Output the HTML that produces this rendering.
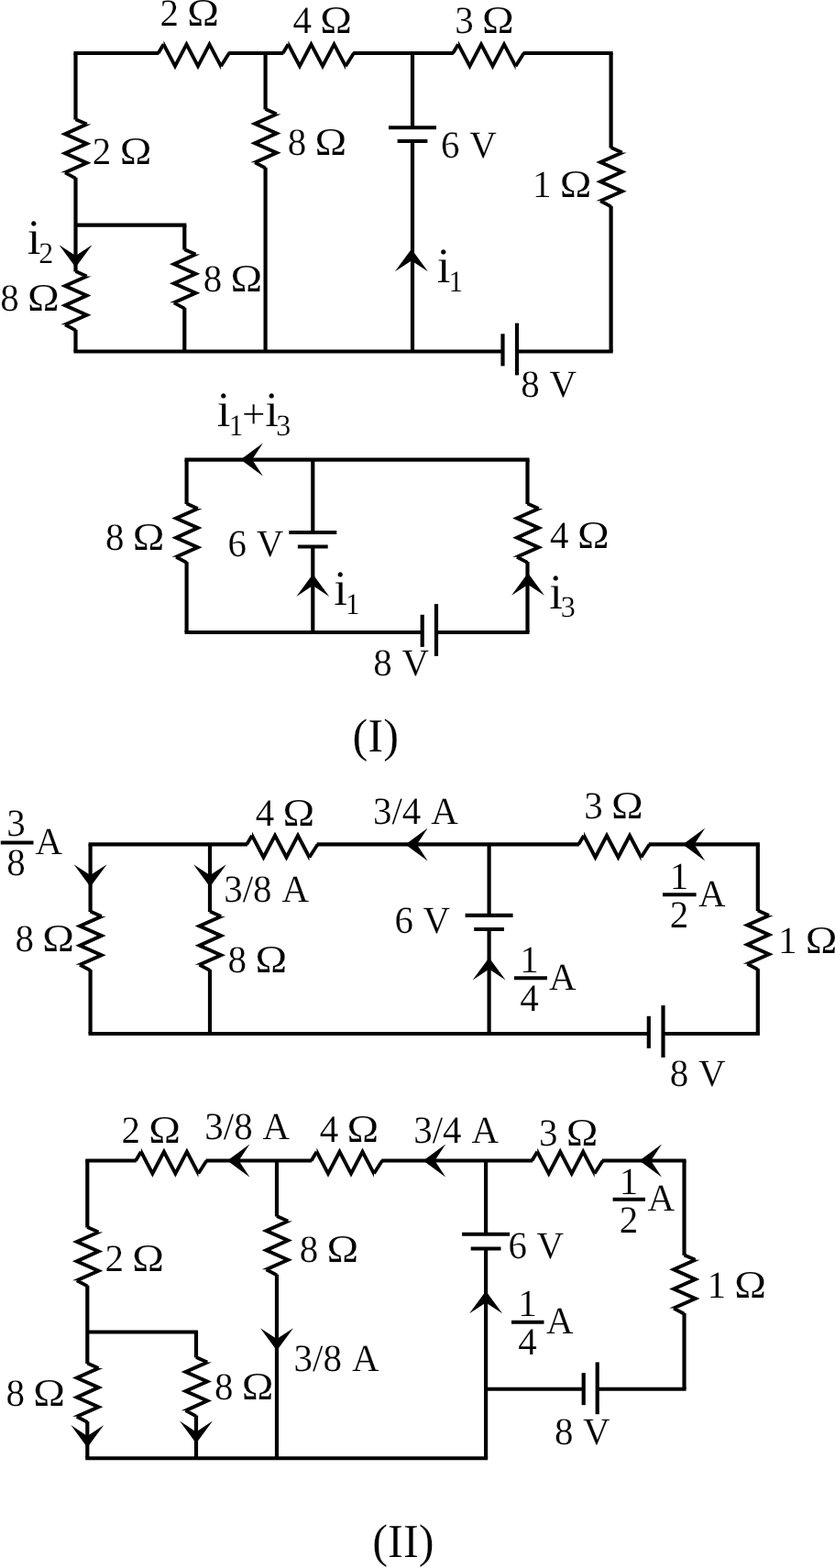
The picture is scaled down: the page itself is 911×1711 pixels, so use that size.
<!DOCTYPE html>
<html><head><meta charset="utf-8"><title>Circuit</title>
<style>
html,body{margin:0;padding:0;background:#fff;width:911px;height:1711px;overflow:hidden}
svg{display:block}
text{text-rendering:geometricPrecision;font-family:"Liberation Serif",serif;fill:#000;stroke:#fff;stroke-width:0.18px}
line,polyline{stroke:#000}
</style></head>
<body>
<svg width="911" height="1711" viewBox="0 0 911 1711">
<rect x="0" y="0" width="911" height="1711" fill="#fff"/>
<g opacity="0.999">
<polygon points="178.5,44.15 191.0,67.95 203.5,44.15 216.0,67.95 228.5,44.15 241.0,67.95 241.0,76.35 228.5,52.55 216.0,76.35 203.5,52.55 191.0,76.35 178.5,52.55" fill="#000" stroke="none"/>
<line x1="172.7" y1="58.05" x2="178.5" y2="48.349999999999994" stroke-width="3.8"/>
<line x1="241.0" y1="72.14999999999999" x2="250.0" y2="58.05" stroke-width="3.8"/>
<polygon points="314.5,44.15 327.0,67.95 339.5,44.15 352.0,67.95 364.5,44.15 377.0,67.95 377.0,76.35 364.5,52.55 352.0,76.35 339.5,52.55 327.0,76.35 314.5,52.55" fill="#000" stroke="none"/>
<line x1="308.7" y1="58.05" x2="314.5" y2="48.349999999999994" stroke-width="3.8"/>
<line x1="377.0" y1="72.14999999999999" x2="386.0" y2="58.05" stroke-width="3.8"/>
<polygon points="500.0,44.15 512.5,67.95 525.0,44.15 537.5,67.95 550.0,44.15 562.5,67.95 562.5,76.35 550.0,52.55 537.5,76.35 525.0,52.55 512.5,76.35 500.0,52.55" fill="#000" stroke="none"/>
<line x1="494.2" y1="58.05" x2="500.0" y2="48.349999999999994" stroke-width="3.8"/>
<line x1="562.5" y1="72.14999999999999" x2="571.5" y2="58.05" stroke-width="3.8"/>
<line x1="80.45" y1="58.05" x2="173.3" y2="58.05" stroke-width="4.1"/>
<line x1="249.2" y1="58.05" x2="309.3" y2="58.05" stroke-width="4.1"/>
<line x1="385.2" y1="58.05" x2="494.8" y2="58.05" stroke-width="4.1"/>
<line x1="570.7" y1="58.05" x2="668.65" y2="58.05" stroke-width="4.1"/>
<line x1="80.45" y1="383.5" x2="548.5" y2="383.5" stroke-width="4.1"/>
<line x1="564" y1="383.5" x2="668.65" y2="383.5" stroke-width="4.1"/>
<line x1="548.5" y1="364.3" x2="548.5" y2="399.4" stroke-width="4.2"/>
<line x1="564" y1="352.6" x2="564" y2="409.4" stroke-width="4.2"/>
<polygon points="89.85,135.6 66.15,146.15 89.85,156.7 66.15,167.25 89.85,177.8 66.15,188.35 75.85,188.35 99.55,177.8 75.85,167.25 99.55,156.7 75.85,146.15 99.55,135.6" fill="#000" stroke="none"/>
<line x1="82.5" y1="130.2" x2="94.7" y2="135.6" stroke-width="3.8"/>
<line x1="71.0" y1="188.35" x2="82.5" y2="194.55" stroke-width="3.8"/>
<polygon points="89.85,301.5 66.15,312.05 89.85,322.6 66.15,333.15 89.85,343.7 66.15,354.25 75.85,354.25 99.55,343.7 75.85,333.15 99.55,322.6 75.85,312.05 99.55,301.5" fill="#000" stroke="none"/>
<line x1="82.5" y1="296.1" x2="94.7" y2="301.5" stroke-width="3.8"/>
<line x1="71.0" y1="354.25" x2="82.5" y2="360.45" stroke-width="3.8"/>
<line x1="82.5" y1="58.05" x2="82.5" y2="130.6" stroke-width="4.2"/>
<line x1="82.5" y1="193.75" x2="82.5" y2="296.5" stroke-width="4.2"/>
<line x1="82.5" y1="359.65" x2="82.5" y2="383.5" stroke-width="4.2"/>
<polygon points="296.95,124.5 273.25,135.05 296.95,145.6 273.25,156.15 296.95,166.7 273.25,177.25 282.95,177.25 306.65,166.7 282.95,156.15 306.65,145.6 282.95,135.05 306.65,124.5" fill="#000" stroke="none"/>
<line x1="289.6" y1="119.1" x2="301.8" y2="124.5" stroke-width="3.8"/>
<line x1="278.1" y1="177.25" x2="289.6" y2="183.45" stroke-width="3.8"/>
<line x1="289.6" y1="58.05" x2="289.6" y2="119.5" stroke-width="4.2"/>
<line x1="289.6" y1="182.64999999999998" x2="289.6" y2="383.5" stroke-width="4.2"/>
<line x1="450" y1="58.05" x2="450" y2="138.5" stroke-width="4.2"/>
<line x1="450" y1="154" x2="450" y2="383.5" stroke-width="4.2"/>
<line x1="424" y1="139.2" x2="476" y2="139.2" stroke-width="4.1"/>
<line x1="433.6" y1="154" x2="466.4" y2="154" stroke-width="4.1"/>
<polygon points="673.95,166.5 650.25,177.05 673.95,187.6 650.25,198.15 673.95,208.7 650.25,219.25 659.95,219.25 683.65,208.7 659.95,198.15 683.65,187.6 659.95,177.05 683.65,166.5" fill="#000" stroke="none"/>
<line x1="666.6" y1="161.1" x2="678.8000000000001" y2="166.5" stroke-width="3.8"/>
<line x1="655.1" y1="219.25" x2="666.6" y2="225.45" stroke-width="3.8"/>
<line x1="666.6" y1="58.05" x2="666.6" y2="161.5" stroke-width="4.2"/>
<line x1="666.6" y1="224.64999999999998" x2="666.6" y2="383.5" stroke-width="4.2"/>
<line x1="82.5" y1="245.6" x2="203.35000000000002" y2="245.6" stroke-width="4.1"/>
<polygon points="208.65,277.6 184.95,288.15 208.65,298.7 184.95,309.25 208.65,319.8 184.95,330.35 194.65,330.35 218.35,319.8 194.65,309.25 218.35,298.7 194.65,288.15 218.35,277.6" fill="#000" stroke="none"/>
<line x1="201.3" y1="272.20000000000005" x2="213.5" y2="277.6" stroke-width="3.8"/>
<line x1="189.8" y1="330.35" x2="201.3" y2="336.55" stroke-width="3.8"/>
<line x1="201.3" y1="245.6" x2="201.3" y2="272.6" stroke-width="4.2"/>
<line x1="201.3" y1="335.75" x2="201.3" y2="383.5" stroke-width="4.2"/>
<polygon points="82.5,291.7 64.5,267.3 82.5,279.1 100.5,267.3" fill="#000" stroke="none"/>
<polygon points="448.9,271.8 430.9,296.2 448.9,284.4 466.9,296.2" fill="#000" stroke="none"/>
<text transform="translate(174.57,28.3) scale(1,1.02)" font-size="41">2</text>
<text transform="translate(204.37,28.3) scale(1.14,1.03)" font-size="41">Ω</text>
<text transform="translate(319.51,36) scale(1,1.02)" font-size="41">4</text>
<text transform="translate(349.31,36) scale(1.14,1.03)" font-size="41">Ω</text>
<text transform="translate(496.24,35.5) scale(1,1.02)" font-size="41">3</text>
<text transform="translate(526.04,35.5) scale(1.14,1.03)" font-size="41">Ω</text>
<text transform="translate(100.87,179.2) scale(1,1.02)" font-size="41">2</text>
<text transform="translate(130.67,179.2) scale(1.14,1.03)" font-size="41">Ω</text>
<text transform="translate(313.8,169.2) scale(1,1.02)" font-size="41">8</text>
<text transform="translate(343.6,169.2) scale(1.14,1.03)" font-size="41">Ω</text>
<text transform="translate(481.11,171.5) scale(1,1.02)" font-size="41" word-spacing="1.2">6 V</text>
<text transform="translate(580.95,214.7) scale(1,1.02)" font-size="41">1</text>
<text transform="translate(610.75,214.7) scale(1.14,1.03)" font-size="41">Ω</text>
<text transform="translate(29.65,277.4) scale(1,1.02)" font-size="53" stroke="#000" stroke-width="0.8">i</text>
<text transform="translate(50.2,287.0) scale(1,1.02)" font-size="32" text-anchor="middle" stroke="#000" stroke-width="0.3">2</text>
<text transform="translate(0.2,339) scale(1,1.02)" font-size="41">8</text>
<text transform="translate(30.0,339) scale(1.14,1.03)" font-size="41">Ω</text>
<text transform="translate(221.7,317.5) scale(1,1.02)" font-size="41">8</text>
<text transform="translate(251.5,317.5) scale(1.14,1.03)" font-size="41">Ω</text>
<text transform="translate(476.65,308) scale(1,1.02)" font-size="53" stroke="#000" stroke-width="0.8">i</text>
<text transform="translate(497.2,317.6) scale(1,1.02)" font-size="32" text-anchor="middle" stroke="#000" stroke-width="0.3">1</text>
<text transform="translate(568.2,432.8) scale(1,1.02)" font-size="41" word-spacing="1.2">8 V</text>
<line x1="201.54999999999998" y1="501.6" x2="577.55" y2="501.6" stroke-width="4.1"/>
<line x1="201.54999999999998" y1="690" x2="460.7" y2="690" stroke-width="4.1"/>
<line x1="476" y1="690" x2="577.55" y2="690" stroke-width="4.1"/>
<line x1="460.7" y1="670.8" x2="460.7" y2="705.9" stroke-width="4.2"/>
<line x1="476" y1="659.1" x2="476" y2="715.9" stroke-width="4.2"/>
<polygon points="210.95,555.0 187.25,565.55 210.95,576.1 187.25,586.65 210.95,597.2 187.25,607.75 196.95,607.75 220.65,597.2 196.95,586.65 220.65,576.1 196.95,565.55 220.65,555.0" fill="#000" stroke="none"/>
<line x1="203.6" y1="549.6" x2="215.79999999999998" y2="555.0" stroke-width="3.8"/>
<line x1="192.1" y1="607.75" x2="203.6" y2="613.95" stroke-width="3.8"/>
<line x1="203.6" y1="501.6" x2="203.6" y2="550.0" stroke-width="4.2"/>
<line x1="203.6" y1="613.1500000000001" x2="203.6" y2="690" stroke-width="4.2"/>
<line x1="341.3" y1="501.6" x2="341.3" y2="581" stroke-width="4.2"/>
<line x1="341.3" y1="596.5" x2="341.3" y2="690" stroke-width="4.2"/>
<line x1="315.3" y1="581" x2="367.3" y2="581" stroke-width="4.1"/>
<line x1="324.90000000000003" y1="596.5" x2="357.7" y2="596.5" stroke-width="4.1"/>
<polygon points="582.85,555.0 559.15,565.55 582.85,576.1 559.15,586.65 582.85,597.2 559.15,607.75 568.85,607.75 592.55,597.2 568.85,586.65 592.55,576.1 568.85,565.55 592.55,555.0" fill="#000" stroke="none"/>
<line x1="575.5" y1="549.6" x2="587.7" y2="555.0" stroke-width="3.8"/>
<line x1="564.0" y1="607.75" x2="575.5" y2="613.95" stroke-width="3.8"/>
<line x1="575.5" y1="501.6" x2="575.5" y2="550.0" stroke-width="4.2"/>
<line x1="575.5" y1="613.1500000000001" x2="575.5" y2="690" stroke-width="4.2"/>
<polygon points="262.5,501.6 286.9,483.6 275.1,501.6 286.9,519.6" fill="#000" stroke="none"/>
<polygon points="341.3,626.5 323.3,650.9 341.3,639.1 359.3,650.9" fill="#000" stroke="none"/>
<polygon points="576.0,625.3 558.0,649.7 576.0,637.9 594.0,649.7" fill="#000" stroke="none"/>
<text transform="translate(236.85,464.9) scale(1,1.02)" font-size="53" stroke="#000" stroke-width="0.8">i</text>
<text transform="translate(257.4,474.5) scale(1,1.02)" font-size="32" text-anchor="middle" stroke="#000" stroke-width="0.3">1</text>
<text transform="translate(276.6,466.5) scale(1,1.02)" font-size="45" text-anchor="middle">+</text>
<text transform="translate(289.35,464.9) scale(1,1.02)" font-size="53" stroke="#000" stroke-width="0.8">i</text>
<text transform="translate(309.2,474.5) scale(1,1.02)" font-size="32" text-anchor="middle" stroke="#000" stroke-width="0.3">3</text>
<text transform="translate(115.0,600) scale(1,1.02)" font-size="41">8</text>
<text transform="translate(144.8,600) scale(1.14,1.03)" font-size="41">Ω</text>
<text transform="translate(248.61,606.7) scale(1,1.02)" font-size="41" word-spacing="1.2">6 V</text>
<text transform="translate(364.15,660.4) scale(1,1.02)" font-size="53" stroke="#000" stroke-width="0.8">i</text>
<text transform="translate(384.7,670.0) scale(1,1.02)" font-size="32" text-anchor="middle" stroke="#000" stroke-width="0.3">1</text>
<text transform="translate(600.11,597.8) scale(1,1.02)" font-size="41">4</text>
<text transform="translate(629.91,597.8) scale(1.14,1.03)" font-size="41">Ω</text>
<text transform="translate(599.15,663.7) scale(1,1.02)" font-size="53" stroke="#000" stroke-width="0.8">i</text>
<text transform="translate(619.7,673.3) scale(1,1.02)" font-size="32" text-anchor="middle" stroke="#000" stroke-width="0.3">3</text>
<text transform="translate(407.2,736.5) scale(1,1.02)" font-size="41" word-spacing="1.2">8 V</text>
<text transform="translate(384.47,819.5) scale(1,1.02)" font-size="50.6">(I)</text>
<polygon points="275.0,907.5 287.5,931.3 300.0,907.5 312.5,931.3 325.0,907.5 337.5,931.3 337.5,939.7 325.0,915.9 312.5,939.7 300.0,915.9 287.5,939.7 275.0,915.9" fill="#000" stroke="none"/>
<line x1="269.2" y1="921.4" x2="275.0" y2="911.6999999999999" stroke-width="3.8"/>
<line x1="337.5" y1="935.5" x2="346.5" y2="921.4" stroke-width="3.8"/>
<polygon points="637.0,907.5 649.5,931.3 662.0,907.5 674.5,931.3 687.0,907.5 699.5,931.3 699.5,939.7 687.0,915.9 674.5,939.7 662.0,915.9 649.5,939.7 637.0,915.9" fill="#000" stroke="none"/>
<line x1="631.2" y1="921.4" x2="637.0" y2="911.6999999999999" stroke-width="3.8"/>
<line x1="699.5" y1="935.5" x2="708.5" y2="921.4" stroke-width="3.8"/>
<line x1="96.55" y1="921.4" x2="269.8" y2="921.4" stroke-width="4.1"/>
<line x1="345.7" y1="921.4" x2="631.8" y2="921.4" stroke-width="4.1"/>
<line x1="707.7" y1="921.4" x2="828.8499999999999" y2="921.4" stroke-width="4.1"/>
<line x1="96.55" y1="1128" x2="707.8" y2="1128" stroke-width="4.1"/>
<line x1="723.5" y1="1128" x2="828.8499999999999" y2="1128" stroke-width="4.1"/>
<line x1="707.8" y1="1108.8" x2="707.8" y2="1143.9" stroke-width="4.2"/>
<line x1="723.5" y1="1097.1" x2="723.5" y2="1153.9" stroke-width="4.2"/>
<polygon points="105.95,1000.0 82.25,1010.55 105.95,1021.1 82.25,1031.65 105.95,1042.2 82.25,1052.75 91.95,1052.75 115.65,1042.2 91.95,1031.65 115.65,1021.1 91.95,1010.55 115.65,1000.0" fill="#000" stroke="none"/>
<line x1="98.6" y1="994.6" x2="110.8" y2="1000.0" stroke-width="3.8"/>
<line x1="87.1" y1="1052.75" x2="98.6" y2="1058.95" stroke-width="3.8"/>
<line x1="98.6" y1="921.4" x2="98.6" y2="995.0" stroke-width="4.2"/>
<line x1="98.6" y1="1058.15" x2="98.6" y2="1128" stroke-width="4.2"/>
<polygon points="236.35,1000.0 212.65,1010.55 236.35,1021.1 212.65,1031.65 236.35,1042.2 212.65,1052.75 222.35,1052.75 246.05,1042.2 222.35,1031.65 246.05,1021.1 222.35,1010.55 246.05,1000.0" fill="#000" stroke="none"/>
<line x1="229" y1="994.6" x2="241.2" y2="1000.0" stroke-width="3.8"/>
<line x1="217.5" y1="1052.75" x2="229" y2="1058.95" stroke-width="3.8"/>
<line x1="229" y1="921.4" x2="229" y2="995.0" stroke-width="4.2"/>
<line x1="229" y1="1058.15" x2="229" y2="1128" stroke-width="4.2"/>
<line x1="533.6" y1="921.4" x2="533.6" y2="998.9" stroke-width="4.2"/>
<line x1="533.6" y1="1014" x2="533.6" y2="1128" stroke-width="4.2"/>
<line x1="507.6" y1="998.9" x2="559.6" y2="998.9" stroke-width="4.1"/>
<line x1="517.2" y1="1014" x2="550.0" y2="1014" stroke-width="4.1"/>
<polygon points="834.15,999.0 810.45,1009.55 834.15,1020.1 810.45,1030.65 834.15,1041.2 810.45,1051.75 820.15,1051.75 843.85,1041.2 820.15,1030.65 843.85,1020.1 820.15,1009.55 843.85,999.0" fill="#000" stroke="none"/>
<line x1="826.8" y1="993.6" x2="839.0" y2="999.0" stroke-width="3.8"/>
<line x1="815.3" y1="1051.75" x2="826.8" y2="1057.95" stroke-width="3.8"/>
<line x1="826.8" y1="921.4" x2="826.8" y2="994.0" stroke-width="4.2"/>
<line x1="826.8" y1="1057.15" x2="826.8" y2="1128" stroke-width="4.2"/>
<polygon points="98.6,967.7 80.6,943.3 98.6,955.1 116.6,943.3" fill="#000" stroke="none"/>
<polygon points="229,967.7 211,943.3 229,955.1 247,943.3" fill="#000" stroke="none"/>
<polygon points="442.3,921.4 466.7,903.4 454.9,921.4 466.7,939.4" fill="#000" stroke="none"/>
<polygon points="744.9,921.4 769.3,903.4 757.5,921.4 769.3,939.4" fill="#000" stroke="none"/>
<polygon points="533.6,1045.0 515.6,1069.4 533.6,1057.6 551.6,1069.4" fill="#000" stroke="none"/>
<line x1="0.8" y1="919.6" x2="36.5" y2="919.6" stroke-width="4"/>
<text transform="translate(17.6,911.8) scale(1,1.02)" font-size="41" text-anchor="middle">3</text>
<text transform="translate(17.6,955) scale(1,1.02)" font-size="41" text-anchor="middle">8</text>
<text transform="translate(38.59,932.2) scale(1,1.02)" font-size="41">A</text>
<text transform="translate(278.71,900.5) scale(1,1.02)" font-size="41">4</text>
<text transform="translate(308.51,900.5) scale(1.14,1.03)" font-size="41">Ω</text>
<text transform="translate(244.14,983.7) scale(1,1.02)" font-size="41" word-spacing="3">3/8 A</text>
<text transform="translate(16.5,1038.1) scale(1,1.02)" font-size="41">8</text>
<text transform="translate(46.3,1038.1) scale(1.14,1.03)" font-size="41">Ω</text>
<text transform="translate(248.6,1061.3) scale(1,1.02)" font-size="41">8</text>
<text transform="translate(278.4,1061.3) scale(1.14,1.03)" font-size="41">Ω</text>
<text transform="translate(406.94,898.8) scale(1,1.02)" font-size="41" word-spacing="3">3/4 A</text>
<text transform="translate(430.41,1017.9) scale(1,1.02)" font-size="41" word-spacing="1.2">6 V</text>
<line x1="561" y1="1067.3" x2="597" y2="1067.3" stroke-width="4"/>
<text transform="translate(577.5,1060.5) scale(1,1.02)" font-size="41" text-anchor="middle">1</text>
<text transform="translate(577.5,1103.1) scale(1,1.02)" font-size="41" text-anchor="middle">4</text>
<text transform="translate(599.09,1080.2) scale(1,1.02)" font-size="41">A</text>
<text transform="translate(637.24,893.3) scale(1,1.02)" font-size="41">3</text>
<text transform="translate(667.04,893.3) scale(1.14,1.03)" font-size="41">Ω</text>
<line x1="723" y1="976.3" x2="759.6" y2="976.3" stroke-width="4"/>
<text transform="translate(741,970) scale(1,1.02)" font-size="41" text-anchor="middle">1</text>
<text transform="translate(741,1012.4) scale(1,1.02)" font-size="41" text-anchor="middle">2</text>
<text transform="translate(762.09,989) scale(1,1.02)" font-size="41">A</text>
<text transform="translate(848.95,1040) scale(1,1.02)" font-size="41">1</text>
<text transform="translate(878.75,1040) scale(1.14,1.03)" font-size="41">Ω</text>
<text transform="translate(730.7,1185.5) scale(1,1.02)" font-size="41" word-spacing="1.2">8 V</text>
<polygon points="153.9,1252.6 166.4,1276.4 178.9,1252.6 191.4,1276.4 203.9,1252.6 216.4,1276.4 216.4,1284.8 203.9,1261.0 191.4,1284.8 178.9,1261.0 166.4,1284.8 153.9,1261.0" fill="#000" stroke="none"/>
<line x1="148.1" y1="1266.5" x2="153.9" y2="1256.8" stroke-width="3.8"/>
<line x1="216.4" y1="1280.6" x2="225.4" y2="1266.5" stroke-width="3.8"/>
<polygon points="345.5,1252.6 358.0,1276.4 370.5,1252.6 383.0,1276.4 395.5,1252.6 408.0,1276.4 408.0,1284.8 395.5,1261.0 383.0,1284.8 370.5,1261.0 358.0,1284.8 345.5,1261.0" fill="#000" stroke="none"/>
<line x1="339.7" y1="1266.5" x2="345.5" y2="1256.8" stroke-width="3.8"/>
<line x1="408.0" y1="1280.6" x2="417.0" y2="1266.5" stroke-width="3.8"/>
<polygon points="586.2,1252.6 598.7,1276.4 611.2,1252.6 623.7,1276.4 636.2,1252.6 648.7,1276.4 648.7,1284.8 636.2,1261.0 623.7,1284.8 611.2,1261.0 598.7,1284.8 586.2,1261.0" fill="#000" stroke="none"/>
<line x1="580.4000000000001" y1="1266.5" x2="586.2" y2="1256.8" stroke-width="3.8"/>
<line x1="648.7" y1="1280.6" x2="657.7" y2="1266.5" stroke-width="3.8"/>
<line x1="93.25" y1="1266.5" x2="148.70000000000002" y2="1266.5" stroke-width="4.1"/>
<line x1="224.6" y1="1266.5" x2="340.3" y2="1266.5" stroke-width="4.1"/>
<line x1="416.2" y1="1266.5" x2="581.0" y2="1266.5" stroke-width="4.1"/>
<line x1="656.9000000000001" y1="1266.5" x2="748.55" y2="1266.5" stroke-width="4.1"/>
<line x1="93.25" y1="1591.2" x2="532.15" y2="1591.2" stroke-width="4.1"/>
<line x1="530.1" y1="1515.8" x2="636.7" y2="1515.8" stroke-width="4.1"/>
<line x1="651.7" y1="1515.8" x2="748.55" y2="1515.8" stroke-width="4.1"/>
<line x1="636.7" y1="1498.1" x2="636.7" y2="1533.2" stroke-width="4.2"/>
<line x1="651.7" y1="1486.3999999999999" x2="651.7" y2="1543.2" stroke-width="4.2"/>
<polygon points="102.65,1344.5 78.95,1355.05 102.65,1365.6 78.95,1376.15 102.65,1386.7 78.95,1397.25 88.65,1397.25 112.35,1386.7 88.65,1376.15 112.35,1365.6 88.65,1355.05 112.35,1344.5" fill="#000" stroke="none"/>
<line x1="95.3" y1="1339.1" x2="107.5" y2="1344.5" stroke-width="3.8"/>
<line x1="83.8" y1="1397.25" x2="95.3" y2="1403.45" stroke-width="3.8"/>
<polygon points="102.65,1493.0 78.95,1503.55 102.65,1514.1 78.95,1524.65 102.65,1535.2 78.95,1545.75 88.65,1545.75 112.35,1535.2 88.65,1524.65 112.35,1514.1 88.65,1503.55 112.35,1493.0" fill="#000" stroke="none"/>
<line x1="95.3" y1="1487.6" x2="107.5" y2="1493.0" stroke-width="3.8"/>
<line x1="83.8" y1="1545.75" x2="95.3" y2="1551.95" stroke-width="3.8"/>
<line x1="95.3" y1="1266.5" x2="95.3" y2="1339.5" stroke-width="4.2"/>
<line x1="95.3" y1="1402.65" x2="95.3" y2="1488.0" stroke-width="4.2"/>
<line x1="95.3" y1="1551.15" x2="95.3" y2="1591.2" stroke-width="4.2"/>
<polygon points="309.35,1332.5 285.65,1343.05 309.35,1353.6 285.65,1364.15 309.35,1374.7 285.65,1385.25 295.35,1385.25 319.05,1374.7 295.35,1364.15 319.05,1353.6 295.35,1343.05 319.05,1332.5" fill="#000" stroke="none"/>
<line x1="302" y1="1327.1" x2="314.2" y2="1332.5" stroke-width="3.8"/>
<line x1="290.5" y1="1385.25" x2="302" y2="1391.45" stroke-width="3.8"/>
<line x1="302" y1="1266.5" x2="302" y2="1327.5" stroke-width="4.2"/>
<line x1="302" y1="1390.65" x2="302" y2="1591.2" stroke-width="4.2"/>
<line x1="530.1" y1="1266.5" x2="530.1" y2="1346.8" stroke-width="4.2"/>
<line x1="530.1" y1="1362.5" x2="530.1" y2="1591.2" stroke-width="4.2"/>
<line x1="504.1" y1="1346.8" x2="556.1" y2="1346.8" stroke-width="4.1"/>
<line x1="513.7" y1="1362.5" x2="546.5" y2="1362.5" stroke-width="4.1"/>
<polygon points="753.85,1374.8 730.15,1385.35 753.85,1395.9 730.15,1406.45 753.85,1417.0 730.15,1427.55 739.85,1427.55 763.55,1417.0 739.85,1406.45 763.55,1395.9 739.85,1385.35 763.55,1374.8" fill="#000" stroke="none"/>
<line x1="746.5" y1="1369.3999999999999" x2="758.7" y2="1374.8" stroke-width="3.8"/>
<line x1="735.0" y1="1427.55" x2="746.5" y2="1433.75" stroke-width="3.8"/>
<line x1="746.5" y1="1266.5" x2="746.5" y2="1369.8" stroke-width="4.2"/>
<line x1="746.5" y1="1432.95" x2="746.5" y2="1515.8" stroke-width="4.2"/>
<line x1="95.3" y1="1453.5" x2="216.05" y2="1453.5" stroke-width="4.1"/>
<polygon points="221.35,1486.4 197.65,1496.95 221.35,1507.5 197.65,1518.05 221.35,1528.6 197.65,1539.15 207.35,1539.15 231.05,1528.6 207.35,1518.05 231.05,1507.5 207.35,1496.95 231.05,1486.4" fill="#000" stroke="none"/>
<line x1="214" y1="1481.0" x2="226.2" y2="1486.4" stroke-width="3.8"/>
<line x1="202.5" y1="1539.15" x2="214" y2="1545.3500000000001" stroke-width="3.8"/>
<line x1="214" y1="1453.5" x2="214" y2="1481.4" stroke-width="4.2"/>
<line x1="214" y1="1544.5500000000002" x2="214" y2="1591.2" stroke-width="4.2"/>
<polygon points="248.0,1266.5 272.4,1248.5 260.6,1266.5 272.4,1284.5" fill="#000" stroke="none"/>
<polygon points="461.8,1266.5 486.2,1248.5 474.4,1266.5 486.2,1284.5" fill="#000" stroke="none"/>
<polygon points="697.6,1266.5 722.0,1248.5 710.2,1266.5 722.0,1284.5" fill="#000" stroke="none"/>
<polygon points="302,1473.7 284,1449.3 302,1461.1 320,1449.3" fill="#000" stroke="none"/>
<polygon points="530.1,1408.8 512.1,1433.2 530.1,1421.4 548.1,1433.2" fill="#000" stroke="none"/>
<polygon points="95.3,1579.5 77.3,1555.1 95.3,1566.9 113.3,1555.1" fill="#000" stroke="none"/>
<polygon points="214,1575.0 196,1550.6 214,1562.4 232,1550.6" fill="#000" stroke="none"/>
<text transform="translate(132.57,1246.9) scale(1,1.02)" font-size="41">2</text>
<text transform="translate(162.37,1246.9) scale(1.14,1.03)" font-size="41">Ω</text>
<text transform="translate(223.24,1242.8) scale(1,1.02)" font-size="41" word-spacing="3">3/8 A</text>
<text transform="translate(114.57,1387) scale(1,1.02)" font-size="41">2</text>
<text transform="translate(144.37,1387) scale(1.14,1.03)" font-size="41">Ω</text>
<text transform="translate(326.7,1376.7) scale(1,1.02)" font-size="41">8</text>
<text transform="translate(356.5,1376.7) scale(1.14,1.03)" font-size="41">Ω</text>
<text transform="translate(6.4,1534) scale(1,1.02)" font-size="41">8</text>
<text transform="translate(36.2,1534) scale(1.14,1.03)" font-size="41">Ω</text>
<text transform="translate(234.0,1526.5) scale(1,1.02)" font-size="41">8</text>
<text transform="translate(263.8,1526.5) scale(1.14,1.03)" font-size="41">Ω</text>
<text transform="translate(320.54,1495.8) scale(1,1.02)" font-size="41" word-spacing="3">3/8 A</text>
<text transform="translate(348.71,1246.4) scale(1,1.02)" font-size="41">4</text>
<text transform="translate(378.51,1246.4) scale(1.14,1.03)" font-size="41">Ω</text>
<text transform="translate(451.14,1246.5) scale(1,1.02)" font-size="41" word-spacing="3">3/4 A</text>
<text transform="translate(554.41,1373.4) scale(1,1.02)" font-size="41" word-spacing="1.2">6 V</text>
<line x1="558" y1="1442.8" x2="593.5" y2="1442.8" stroke-width="4"/>
<text transform="translate(575.5,1436) scale(1,1.02)" font-size="41" text-anchor="middle">1</text>
<text transform="translate(575.5,1478.4) scale(1,1.02)" font-size="41" text-anchor="middle">4</text>
<text transform="translate(595.88,1455) scale(1,1.02)" font-size="41">A</text>
<text transform="translate(588.04,1249.7) scale(1,1.02)" font-size="41">3</text>
<text transform="translate(617.84,1249.7) scale(1.14,1.03)" font-size="41">Ω</text>
<line x1="668.6" y1="1308.7" x2="704" y2="1308.7" stroke-width="4"/>
<text transform="translate(686,1302.8) scale(1,1.02)" font-size="41" text-anchor="middle">1</text>
<text transform="translate(686,1345) scale(1,1.02)" font-size="41" text-anchor="middle">2</text>
<text transform="translate(706.38,1321) scale(1,1.02)" font-size="41">A</text>
<text transform="translate(771.45,1415.7) scale(1,1.02)" font-size="41">1</text>
<text transform="translate(801.25,1415.7) scale(1.14,1.03)" font-size="41">Ω</text>
<text transform="translate(604.9,1576) scale(1,1.02)" font-size="41" word-spacing="1.2">8 V</text>
<text transform="translate(406.27,1699.5) scale(1,1.02)" font-size="50.6">(II)</text>
</g>
</svg>
</body></html>
